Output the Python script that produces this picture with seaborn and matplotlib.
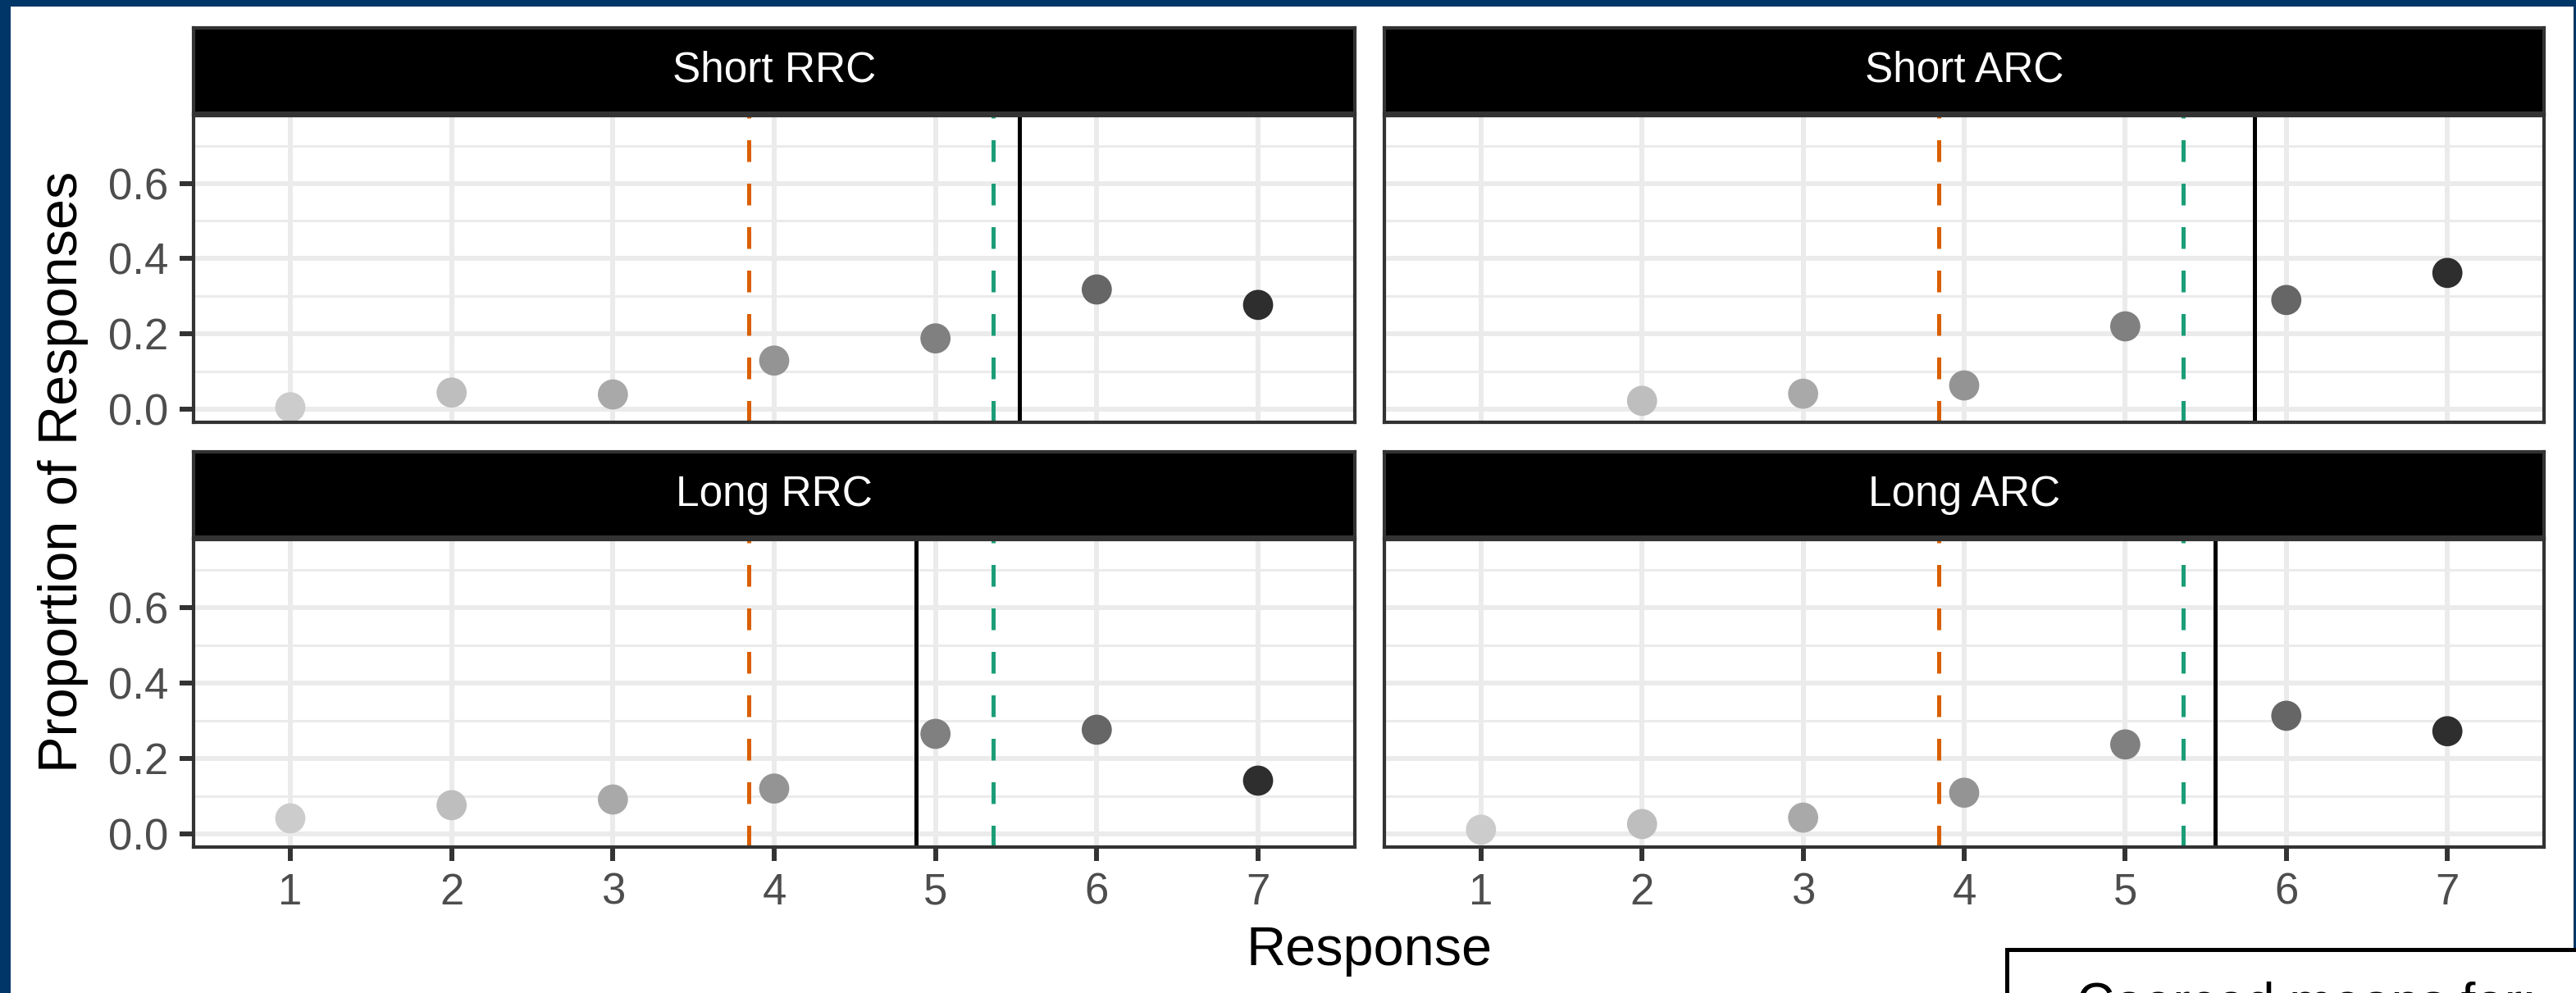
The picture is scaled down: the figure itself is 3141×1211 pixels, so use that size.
import numpy as np
import pandas as pd
import matplotlib
matplotlib.use("Agg")
import matplotlib.pyplot as plt
import seaborn as sns
from matplotlib.patches import Rectangle

# ---------------- data ----------------
panels = ["Short RRC", "Short ARC", "Long RRC", "Long ARC"]
responses = [1, 2, 3, 4, 5, 6, 7]
short_rrc = [0.005, 0.044, 0.039, 0.129, 0.188, 0.318, 0.277]
short_arc = [np.nan, 0.022, 0.041, 0.063, 0.220, 0.290, 0.362]
long_rrc = [0.041, 0.076, 0.091, 0.120, 0.265, 0.276, 0.141]
long_arc = [0.011, 0.026, 0.043, 0.109, 0.237, 0.313, 0.272]
orange_means = [3.84, 3.84, 3.84, 3.84]
green_means = [5.36, 5.36, 5.36, 5.36]
black_means = [5.52, 5.80, 4.88, 5.56]
yticks = [0.0, 0.2, 0.4, 0.6]
yminor = [0.1, 0.3, 0.5, 0.7]
point_colors = ["#CCCCCC", "#BEBEBE", "#A9A9A9", "#949494", "#808080", "#666666", "#2E2E2E"]
coerced_text = "Coerced means for:"

values = [short_rrc, short_arc, long_rrc, long_arc]
df = pd.DataFrame({
    "panel": np.repeat(panels, len(responses)),
    "response": responses * len(panels),
    "prop": np.concatenate(values),
})
palette = dict(zip(responses, point_colors))

# ---------------- style ----------------
sns.set_style("white")
plt.rcParams["font.family"] = ["Liberation Sans", "DejaVu Sans"]

W, H = 3141, 1211
fig = plt.figure(figsize=(W / 100, H / 100), dpi=100, facecolor="#013668")

# white slide area
fig.patches.append(Rectangle((13 / W, 0), (3138 - 13) / W, 1 - 8 / H,
                             transform=fig.transFigure, facecolor="white",
                             edgecolor="none", zorder=-5))

col_x = [(236, 1652), (1688, 3102)]
row_y = [(141, 515), (658, 1033)]
strip_y = [(34, 138), (551, 655)]

def fx(px):
    return px / W

def fy(py):
    return 1 - py / H

grid_c = "#EBEBEB"
dark = "#333333"

for i, name in enumerate(panels):
    r, c = divmod(i, 2)
    x0, x1 = col_x[c]
    y0, y1 = row_y[r]
    ax = fig.add_axes([fx(x0), fy(y1), fx(x1) - fx(x0), fy(y0) - fy(y1)])
    ax.set_facecolor("white")
    sub = df[df["panel"] == name].dropna()
    ax.axvline(orange_means[i], color="#D95F02", lw=3.6, dashes=(5.3, 5.3), zorder=2)
    ax.axvline(green_means[i], color="#1B9E77", lw=3.6, dashes=(5.3, 5.3), zorder=2)
    ax.axvline(black_means[i], color="black", lw=3.6, zorder=2)
    sns.scatterplot(data=sub, x="response", y="prop", hue="response",
                    palette=palette, legend=False, s=700, linewidth=0,
                    ax=ax, zorder=3)
    ax.set_xlim(0.4, 7.6)
    ax.set_ylim(-0.035, 0.78)
    ax.set_xticks(responses)
    ax.set_xticklabels([str(v) for v in responses])
    ax.set_yticks(yticks)
    ax.set_yticklabels([f"{v:.1f}" for v in yticks])
    ax.set_yticks(yminor, minor=True)
    ax.set_axisbelow(True)
    ax.grid(which="major", color=grid_c, lw=4.3)
    ax.grid(which="minor", axis="y", color=grid_c, lw=2.2)
    ax.tick_params(which="minor", length=0)
    ax.tick_params(which="major", bottom=True, left=True, length=12,
                   width=4.3, color=dark, labelsize=38,
                   labelcolor="#4D4D4D", pad=10)
    ax.set_xlabel("")
    ax.set_ylabel("")
    for s in ax.spines.values():
        s.set_color(dark)
        s.set_linewidth(3)
        s.set_zorder(5)
    if r == 0:
        ax.tick_params(axis="x", length=0, labelbottom=False)
    if c == 1:
        ax.tick_params(axis="y", length=0, labelleft=False)

    # strip
    sy0, sy1 = strip_y[r]
    sax = fig.add_axes([fx(x0), fy(sy1), fx(x1) - fx(x0), fy(sy0) - fy(sy1)])
    sax.set_facecolor("black")
    sax.set_xticks([])
    sax.set_yticks([])
    for s in sax.spines.values():
        s.set_color(dark)
        s.set_linewidth(3)
    sax.text(0.5, 0.5, name, color="white", fontsize=37,
             ha="center", va="center", transform=sax.transAxes)

fig.text(fx(77), fy(575), "Proportion of Responses", rotation=90,
         fontsize=48, color="black", ha="center", va="center")
fig.text(fx(1670), fy(1160), "Response", fontsize=48, color="black",
         ha="center", va="center")

# bottom-right text box (cut off at the lower edge, as in the source)
fig.patches.append(Rectangle((fx(2447), -0.1), 0.3, fy(1158) + 0.1,
                             transform=fig.transFigure, facecolor="white",
                             edgecolor="black", lw=3.6, zorder=10))
fig.text(fx(2812), fy(1243), coerced_text, fontsize=46, color="black",
         ha="center", va="baseline", zorder=11)

fig.savefig("out.png", dpi=100, facecolor=fig.get_facecolor())
